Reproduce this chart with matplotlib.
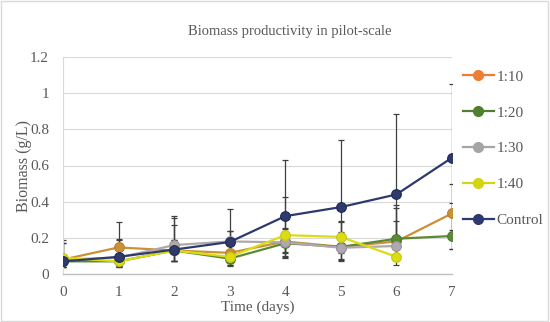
import matplotlib
matplotlib.use("Agg")
import matplotlib.pyplot as plt
from matplotlib.lines import Line2D
from matplotlib.patches import Rectangle

plt.rcParams['font.family'] = ['Liberation Serif', 'DejaVu Serif']

days = [0, 1, 2, 3, 4, 5, 6, 7]
labels = ["1:10", "1:20", "1:30", "1:40", "Control"]

s_110 = [0.08, 0.147, 0.13, 0.117, 0.18, 0.15, 0.18, 0.335]
s_120 = [0.07, 0.07, 0.13, 0.085, 0.17, 0.15, 0.195, 0.21]
s_130 = [0.08, 0.09, 0.16, 0.18, 0.175, 0.145, 0.155]
s_140 = [0.09, 0.07, 0.13, 0.095, 0.215, 0.205, 0.095]
s_ctrl = [0.07, 0.095, 0.135, 0.177, 0.32, 0.37, 0.44, 0.643]

# upper / lower error magnitudes
up_110 = [0.09, 0.14, 0.14, 0.12, 0.245, 0.14, 0.2, 0.165]
lo_110 = [0.04, 0.105, 0.06, 0.07, 0.08, 0.07, 0.1, 0.195]
up_120 = [0.03, 0.03, 0.06, 0.04, 0.08, 0.08, 0.17, 0.183]
lo_120 = [0.03, 0.03, 0.06, 0.037, 0.08, 0.08, 0.1, 0.07]
up_130 = [0.09, 0.1, 0.15, 0.06, 0.08, 0.075, 0.14]
lo_130 = [0.04, 0.04, 0.09, 0.06, 0.08, 0.06, 0.08]
up_140 = [0.096, 0.03, 0.06, 0.04, 0.1, 0.09, 0.05]
lo_140 = [0.04, 0.03, 0.06, 0.045, 0.1, 0.09, 0.047]
up_ctrl = [0.03, 0.1, 0.185, 0.18, 0.31, 0.37, 0.445, 0.41]
lo_ctrl = [0.03, 0.05, 0.065, 0.1, 0.2, 0.25, 0.3, 0.4]

plot_colors = ['#CC9035', '#5A8A35', '#AFA8AE', '#DCDC14', '#2E3A6E']
legend_colors = ['#ED7D31', '#4F7F2F', '#A5A5A5', '#D4D414', '#2E3A6E']
edge_colors = ['#B88030', '#4A7A2A', '#9A949A', '#C8C810', '#1F2A55']

series = [s_110, s_120, s_130, s_140, s_ctrl]
errs = [(lo_110, up_110), (lo_120, up_120), (lo_130, up_130), (lo_140, up_140), (lo_ctrl, up_ctrl)]

fig = plt.figure(figsize=(5.5, 3.22), dpi=100)
ax = fig.add_axes([63/550, (322-274)/322, (452-63)/550, (274-57)/322])

txt = '#595959'
for s, e in zip(series, errs):
    x = days[:len(s)]
    ax.errorbar(x, s, yerr=[e[0], e[1]], fmt='none', ecolor='#404040', elinewidth=0.9,
                capsize=2.5, capthick=0.9, zorder=2)
for s, c, ec in zip(series, plot_colors, edge_colors):
    x = days[:len(s)]
    ax.plot(x, s, color=c, lw=1.6, marker='o', ms=7, mfc=c, mec=ec, mew=0.8, zorder=3)

ax.set_xlim(0, 7)
ax.set_ylim(0, 1.2)
ax.set_yticks([0, 0.2, 0.4, 0.6, 0.8, 1.0, 1.2])
ax.set_yticklabels(['0', '0.2', '0.4', '0.6', '0.8', '1', '1.2'])
ax.set_xticks(days)
ax.tick_params(length=0, colors=txt, labelsize=11)
ax.tick_params(axis='x', pad=9)
ax.tick_params(axis='y', pad=10)
ax.grid(axis='y', color='#D9D9D9', lw=0.8)
ax.set_axisbelow(True)
for sp in ['top', 'right']:
    ax.spines[sp].set_visible(False)
ax.spines['left'].set_color('#D9D9D9')
ax.spines['bottom'].set_color('#BFBFBF')
ax.spines['bottom'].set_linewidth(1.0)

fig.text(290/550, 1 - 31/322, 'Biomass productivity in pilot-scale', color=txt,
         fontsize=10.5, ha='center', va='center')
ax.set_xlabel('Time (days)', color=txt, fontsize=11, labelpad=1)
ax.set_ylabel('Biomass (g/L)', color=txt, fontsize=11.5, labelpad=-1)

handles = [Line2D([], [], color=c, lw=1.6, marker='o', ms=7, mfc=c, mec=c)
           for c in legend_colors]
fig.legend(handles, labels, loc='upper left', bbox_to_anchor=(457/550, 1 - 64/322),
           frameon=False, fontsize=11, labelcolor=txt, handlelength=2.0,
           handletextpad=0.2, labelspacing=1.45, borderaxespad=0)

fig.patches.append(Rectangle((0.002, 0.003), 0.995, 0.993, transform=fig.transFigure,
                             fill=False, edgecolor='#D9D9D9', lw=1.0))

fig.savefig('out.png', dpi=100)
